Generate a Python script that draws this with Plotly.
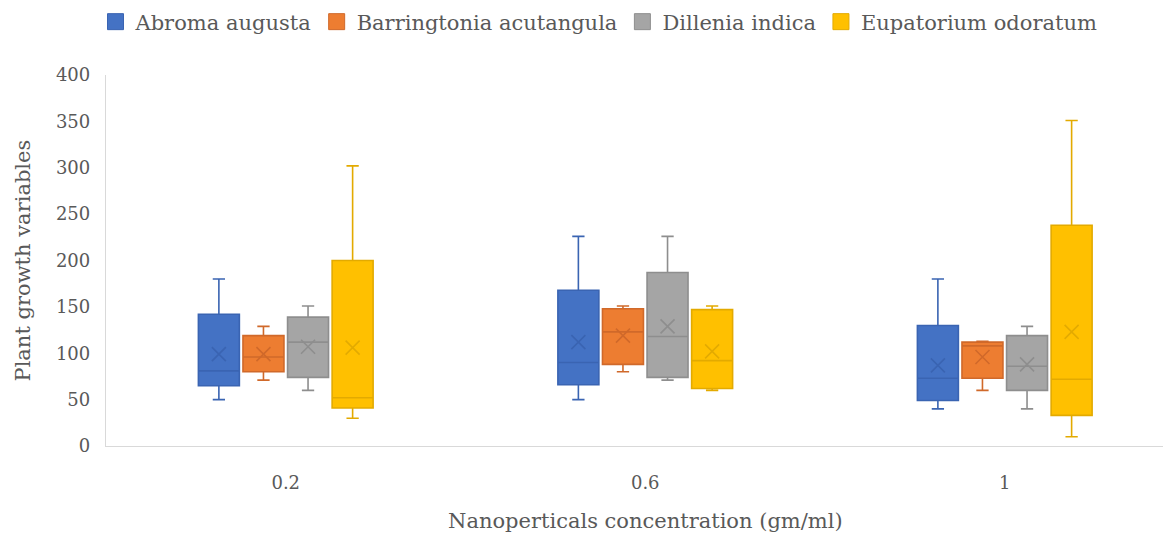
import plotly.graph_objects as go

categories = ["0.2", "0.6", "1"]
series = ["Abroma augusta", "Barringtonia acutangula", "Dillenia indica", "Eupatorium odoratum"]

# per series: values for each category
lower = {
    "Abroma augusta": [50, 50, 40],
    "Barringtonia acutangula": [71, 80, 60],
    "Dillenia indica": [60, 71, 40],
    "Eupatorium odoratum": [30, 60, 10],
}
q1 = {
    "Abroma augusta": [65, 66, 49],
    "Barringtonia acutangula": [80, 88, 73],
    "Dillenia indica": [74, 74, 60],
    "Eupatorium odoratum": [41, 62, 33],
}
median = {
    "Abroma augusta": [81, 90, 73],
    "Barringtonia acutangula": [96, 123, 108],
    "Dillenia indica": [112, 118, 86],
    "Eupatorium odoratum": [52, 92, 72],
}
q3 = {
    "Abroma augusta": [142, 168, 130],
    "Barringtonia acutangula": [119, 148, 112],
    "Dillenia indica": [139, 187, 119],
    "Eupatorium odoratum": [200, 147, 238],
}
upper = {
    "Abroma augusta": [180, 226, 180],
    "Barringtonia acutangula": [129, 151, 113],
    "Dillenia indica": [151, 226, 129],
    "Eupatorium odoratum": [302, 151, 351],
}
mean = {
    "Abroma augusta": [99, 112, 87],
    "Barringtonia acutangula": [99, 119, 96],
    "Dillenia indica": [107, 129, 88],
    "Eupatorium odoratum": [106, 102, 123],
}
y_ticks = [0, 50, 100, 150, 200, 250, 300, 350, 400]

fills = ["#4472C4", "#ED7D31", "#A5A5A5", "#FFC000"]
lines = ["#3A64B2", "#D0692A", "#8E8E8E", "#E3AA00"]

FONT = "DejaVu Serif, Liberation Serif, serif"
TXT = "#595959"

# page body adds an 8px offset; compensate in margins
W, H = 1171, 536
OFF = 8
L, T = 106 - OFF, 75 - OFF
plot_h = 371
B = H - T - plot_h
plot_w = W - L
cat_px = 359.5

fig = go.Figure()
n = len(series)
step = 0.124
bw = 0.114
for i, s in enumerate(series):
    off = (i - (n - 1) / 2) * step
    xs = [k + off for k in range(len(categories))]
    fig.add_trace(go.Box(
        x=xs, q1=q1[s], median=median[s], q3=q3[s],
        lowerfence=lower[s], upperfence=upper[s],
        width=bw, whiskerwidth=0.3,
        fillcolor=fills[i], line=dict(color=lines[i], width=1.6),
        boxpoints=False, showlegend=False, hoverinfo="skip",
    ))
    fig.add_trace(go.Scatter(
        x=xs, y=mean[s], mode="markers",
        marker=dict(symbol="x-thin", size=14, line=dict(color=lines[i], width=1.6)),
        showlegend=False, hoverinfo="skip",
    ))
for i, s in enumerate(series):
    fig.add_trace(go.Scatter(
        x=[None], y=[None], mode="markers", name=s,
        marker=dict(symbol="square", size=16, color=fills[i], line=dict(color=lines[i], width=1)),
    ))

fig.add_annotation(x=1, xref="x", y=(T + plot_h - (521 - OFF)) / plot_h, yref="paper", yanchor="middle",
                   text="Nanoperticals concentration (gm/ml)", showarrow=False,
                   font=dict(family=FONT, size=21, color=TXT))
fig.add_annotation(x=-(L - (22 - OFF)) / plot_w, xref="paper", y=0.5, yref="paper",
                   xanchor="center", yanchor="middle", textangle=-90,
                   text="Plant growth variables", showarrow=False,
                   font=dict(family=FONT, size=21, color=TXT))

fig.update_layout(
    width=W, height=H,
    margin=dict(l=L, r=0, t=T, b=B, autoexpand=False),
    paper_bgcolor="white", plot_bgcolor="white",
    font=dict(family=FONT, size=18, color=TXT),
    legend=dict(orientation="h", x=(599 - OFF - L) / plot_w, xanchor="center",
                y=(T + plot_h - (22 - OFF)) / plot_h, yanchor="middle",
                font=dict(family=FONT, size=21, color=TXT), itemwidth=30,
                tracegroupgap=0),
    xaxis=dict(range=[-0.5, -0.5 + plot_w / cat_px], tickvals=list(range(len(categories))),
               ticktext=categories, showgrid=False, zeroline=False, automargin=False,
               showline=True, linecolor="#D9D9D9", linewidth=1.3, ticks="",
               ticklabelstandoff=20, tickfont=dict(size=18, color=TXT)),
    yaxis=dict(range=[0, 400], tickvals=y_ticks, showgrid=False, zeroline=False, automargin=False,
               showline=True, linecolor="#D9D9D9", linewidth=1.3, ticks="",
               ticklabelstandoff=11, tickfont=dict(size=18, color=TXT)),
)

fig.write_html("out.html")
